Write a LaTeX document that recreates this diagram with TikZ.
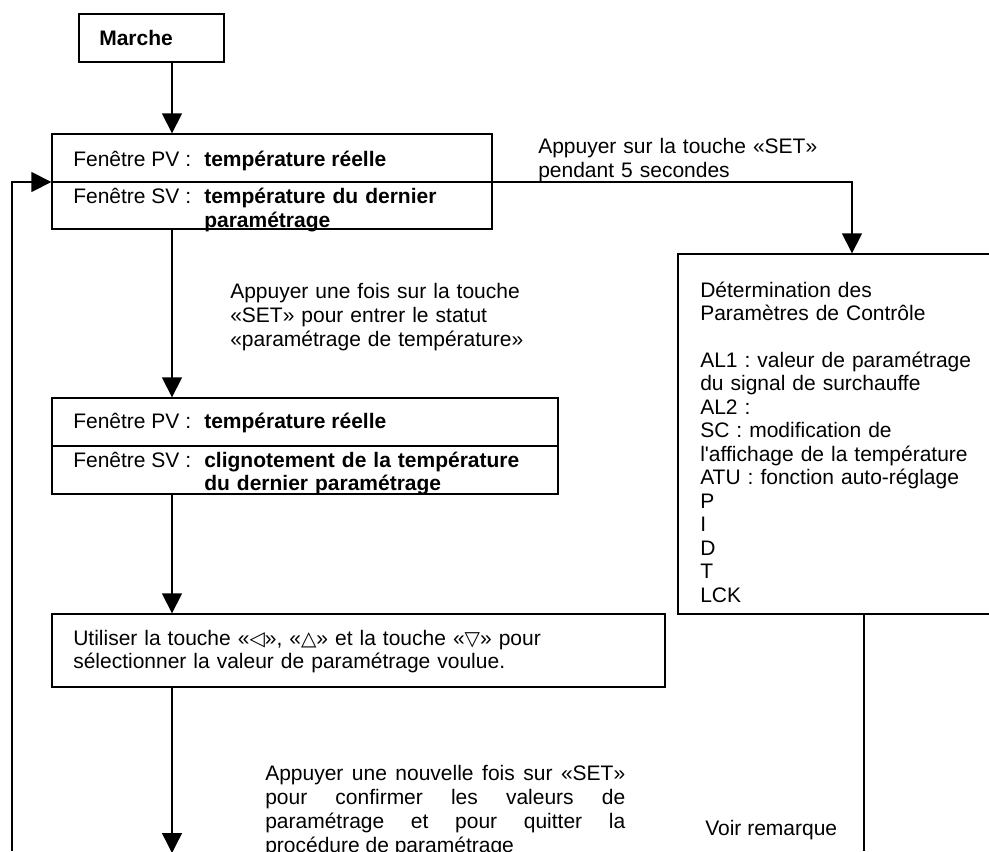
\documentclass[tikz,border=0pt]{standalone}
\usepackage{fontspec}
\setmainfont{Liberation Sans}
\newfontfamily\symf{DejaVu Sans}
\usetikzlibrary{arrows.meta,fit}
\newcommand{\tsym}[1]{{\symf\fontsize{15}{15}\selectfont #1}}
\begin{document}
\frenchspacing
\begin{tikzpicture}[x=0.75pt,y=-0.75pt,
  box/.style={draw,line width=1pt,inner sep=0pt,fit={#1}},
  txt/.style={inner sep=0pt,anchor=base west,font=\fontsize{15.75}{18}\selectfont},
  mtxt/.style={txt,text width=#1,align=left},
  arr/.style={line width=1pt,-{Triangle[length=15pt,width=15pt]}},
  plain/.style={line width=1pt}]
\useasboundingbox (0,0) rectangle (989,851);
\clip (0,0) rectangle (989,851);

% column coordinates
\coordinate (colx) at (172,0);
\coordinate (d1) at (0,182);
\coordinate (d2) at (0,446);
\coordinate (fb) at (12,851);
\coordinate (bend) at (172,853);
\coordinate (rb) at (864,851);

% boxes
\node[box={(79,14) (224,62)}] (marche) {};
\node[box={(52,134) (492,229)}] (box1) {};
\node[box={(52,398) (558,494)}] (box2) {};
\node[box={(52,614) (665,687)}] (box3) {};
\node[box={(678,254) (1026,614)}] (rbox) {};

\draw[plain] (box1.west |- d1) -- (box1.east |- d1);
\draw[plain] (box2.west |- d2) -- (box2.east |- d2);

% texts
\node[txt] (tmarche) at (99,45) {\bfseries Marche};

\node[txt] (pv1) at (73,166) {Fenêtre PV :};
\node[txt] (pv1b) at (204,166) {\bfseries température réelle};
\node[txt] (sv1) at (73,203) {Fenêtre SV :};
\node[mtxt=300pt] (sv1b) at (204,203) {\bfseries température du dernier\\paramétrage};

\node[txt] (pv2) at (73,428) {Fenêtre PV :};
\node[txt] (pv2b) at (204,428) {\bfseries température réelle};
\node[txt] (sv2) at (73,467) {Fenêtre SV :};
\node[mtxt=300pt,font=\fontsize{15.75}{17.3}\selectfont] (sv2b) at (204,467) {\bfseries clignotement de la température\\du dernier paramétrage};

\node[mtxt=440pt,font=\fontsize{15.75}{17.3}\selectfont] (t3) at (73,645) {Utiliser la touche «\tsym{◁}», «\tsym{△}» et la touche «\tsym{▽}» pour\\sélectionner la valeur de paramétrage voulue.};

\node[mtxt=260pt,font=\fontsize{15.75}{17.6}\selectfont] (tr) at (700,297) {Détermination des\\Paramètres de Contrôle\\[17.6pt]AL1 : valeur de paramétrage\\du signal de surchauffe\\AL2 :\\SC : modification de\\l\textquotesingle affichage de la température\\ATU : fonction auto-réglage\\P\\I\\D\\T\\LCK};

\node[mtxt=260pt] (l1) at (538,153) {Appuyer sur la touche «SET»\\pendant 5 secondes};
\node[mtxt=260pt] (l2) at (230,298) {Appuyer une fois sur la touche\\«SET» pour entrer le statut\\«paramétrage de température»};
\node[txt,text width=270pt,align=justify] (l3) at (265,780) {\hyphenpenalty=10000 Appuyer une nouvelle fois sur «SET»\linebreak pour confirmer les valeurs de\linebreak paramétrage et pour quitter la\linebreak procédure de paramétrage};
\node[txt] (l4) at (705,835) {Voir remarque};

% connectors
\draw[arr] (marche.south -| colx) -- (box1.north -| colx);
\draw[arr] (box1.south -| colx) -- (box2.north -| colx);
\draw[arr] (box2.south -| colx) -- (box3.north -| colx);
\draw[arr] (box3.south -| colx) -- (bend);
\draw[arr] (box1.east |- d1) -| (rbox.north);
\draw[arr] (fb) |- (box1.west |- d1);
\draw[plain] (rbox.south -| rb) -- (rb);
\end{tikzpicture}
\end{document}
